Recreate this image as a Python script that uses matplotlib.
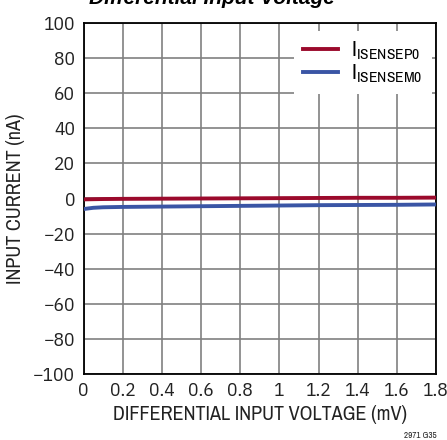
import matplotlib
matplotlib.use("Agg")
import matplotlib.pyplot as plt
import numpy as np

FONT = 'Archivo Narrow'
TICKFONT = 'IBM Plex Sans Condensed'
plt.rcParams['font.family'] = [FONT, 'DejaVu Sans']
plt.rcParams['mathtext.fontset'] = 'custom'
plt.rcParams['mathtext.rm'] = FONT

voltage = [0.0, 0.05, 0.1, 0.2, 0.4, 0.6, 0.8, 1.0, 1.2, 1.4, 1.6, 1.8]
i_sensep0 = [-0.5, -0.4, -0.3, -0.2, -0.1, 0.0, 0.1, 0.2, 0.3, 0.4, 0.4, 0.5]
i_sensem0 = [-6.0, -5.3, -5.0, -4.8, -4.6, -4.4, -4.2, -4.0, -3.8, -3.7, -3.6, -3.4]

xticks = [0, 0.2, 0.4, 0.6, 0.8, 1, 1.2, 1.4, 1.6, 1.8]
xticklabels = ["0", "0.2", "0.4", "0.6", "0.8", "1", "1.2", "1.4", "1.6", "1.8"]
yticks = [-100, -80, -60, -40, -20, 0, 20, 40, 60, 80, 100]
yticklabels = ["\u2212100", "\u221280", "\u221260", "\u221240", "\u221220", "0", "20", "40", "60", "80", "100"]

fig = plt.figure(figsize=(4.47, 4.40), dpi=100)
ax = fig.add_axes([83.5/447, 1-374/440, (436-83.5)/447, (374-23)/440])

ax.plot(voltage, i_sensep0, color='#9b0a2c', lw=2.8, label=r'I$_{\mathrm{ISENSEP0}}$', zorder=3)
ax.plot(voltage, i_sensem0, color='#3a55a5', lw=2.8, label=r'I$_{\mathrm{ISENSEM0}}$', zorder=3)

ax.set_xlim(0, 1.8)
ax.set_ylim(-100, 100)
ax.set_xticks(xticks)
ax.set_xticklabels(xticklabels, family=[TICKFONT, 'DejaVu Sans'])
ax.set_yticks(yticks)
ax.set_yticklabels(yticklabels, family=[TICKFONT, 'DejaVu Sans'])
ax.tick_params(length=0, labelsize=14, pad=6, colors='#222222')
ax.grid(True, color='#808080', lw=1.2)
ax.set_axisbelow(True)
for s in ax.spines.values():
    s.set_color('black')
    s.set_linewidth(1.3)

ax.set_xlabel('DIFFERENTIAL INPUT VOLTAGE (mV)', fontsize=14.5, labelpad=3, color='#222222')
ax.set_ylabel('INPUT CURRENT (nA)', fontsize=14.5, labelpad=6, color='#222222')

leg = ax.legend(loc='upper right', bbox_to_anchor=(1.0, 0.99), frameon=True, fontsize=16,
                handlelength=1.6, handletextpad=0.6, labelspacing=0.0, borderaxespad=0.2,
                fancybox=False)
leg.get_frame().set_edgecolor('none')
leg.get_frame().set_facecolor('white')
leg.get_frame().set_alpha(1.0)

fig.text(212/447, 1-4/440, 'Differential Input Voltage', fontsize=15, fontweight='bold',
         fontstyle='italic', ha='center', va='baseline', family=['Liberation Sans', 'DejaVu Sans'])
fig.text(437/447, 1-438/440, '2971 G35', fontsize=6.5, ha='right', va='baseline', color='#222222')

fig.savefig('out.png', dpi=100)
